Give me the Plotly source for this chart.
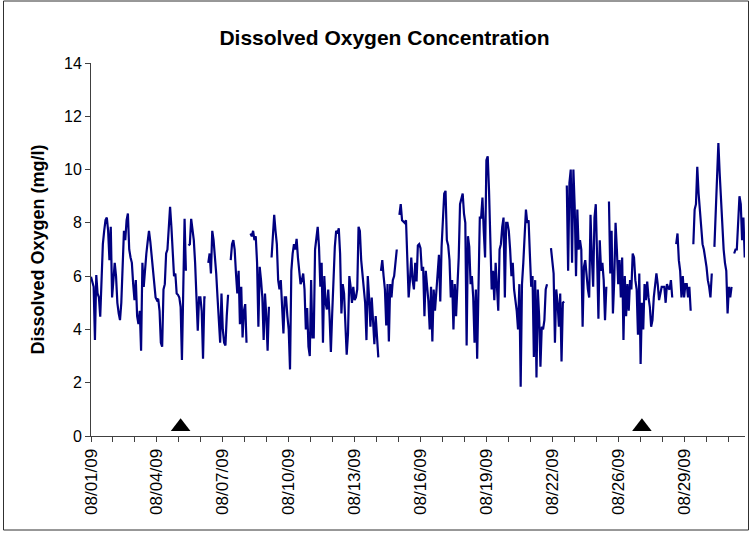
import plotly.graph_objects as go

# --- data: dissolved oxygen (mg/l), one reading per 1.5-hour slot; None = missing ---
do_values = [
    5.98, 5.73, 5.6, 3.6, 6.04, 5.35, 5.2, 4.48, 5.85, 7.2,
    7.7, 8.1, 8.2, 7.7, 6.6, 7.85, 5.2, 6.0, 6.5, 6.0,
    5.0, 4.6, 4.35, 5.0, 6.6, 7.7, 7.35, 8.1, 8.35, 7.0,
    6.7, 6.5, 5.7, 5.1, 5.85, 4.5, 4.2, 4.7, 3.2, 6.5,
    5.6, 6.35, 6.85, 7.3, 7.7, 7.3, 6.7, 6.2, 5.8, 5.2,
    5.1, 5.15, 4.7, 3.5, 3.35, 5.5, 5.7, 6.85, 7.0, 8.0,
    8.6, 7.85, 6.6, 6.0, 6.1, 5.35, 5.3, 5.2, 4.85, 2.85,
    5.5, 8.15, 6.2, None, 7.15, 7.2, 8.15, 7.8, 7.35, 6.5,
    5.35, 3.95, 5.2, 5.2, 4.7, 2.9, 5.2, 5.2, None, 6.5,
    6.85, 6.1, 7.7, 7.35, 6.85, 6.1, 5.2, 4.5, 3.5, 5.35,
    4.0, 3.5, 3.4, 4.5, 5.3, None, 6.6, 7.2, 7.35, 7.0,
    6.1, 5.35, 6.2, 4.2, 5.6, 3.7, 4.7, 4.95, 3.5, None,
    None, 7.6, 7.5, 7.7, 7.35, 7.5, 6.5, 4.1, 6.35, 5.85,
    5.2, 3.6, 5.35, 4.5, 3.2, 4.85, None, 6.7, 7.7, 8.3,
    7.7, 7.2, 5.85, 5.5, 5.85, 5.0, 3.85, 5.2, 5.2, 4.5,
    4.0, 2.5, 6.2, 6.85, 7.2, 7.0, 7.4, 6.7, 6.1, 5.7,
    5.85, 6.1, 5.5, 4.0, 4.8, 3.35, 3.0, 5.85, 3.7, 3.7,
    7.0, 7.5, 7.85, 7.1, 5.6, 6.5, 3.5, 6.0, 5.0, 4.75,
    5.5, 4.5, 3.15, 4.6, 6.2, 7.1, 7.7, 7.6, 7.8, 6.85,
    4.6, 5.7, 5.35, 4.0, 3.05, 3.85, 6.0, 5.6, 5.0, 5.6,
    5.1, 5.2, 5.5, 7.85, 7.7, 6.6, 6.1, 5.6, 5.0, 3.6,
    6.0, 5.2, 4.1, 5.2, 4.2, 3.45, 4.5, 3.7, 2.95, None,
    6.2, 6.6, 6.0, 5.5, 4.15, 5.7, 3.55, 5.7, 5.2, 5.85,
    6.0, 6.5, 7.0, None, 8.3, 8.7, 8.1, 8.05, 8.0, 8.1,
    6.5, 5.2, 5.85, 6.7, 5.85, 5.5, 6.5, 5.8, 7.15, 7.2,
    7.05, 6.2, 6.35, 4.5, 6.2, 5.7, 5.05, 4.0, 5.6, 3.55,
    5.5, 4.7, 5.6, 6.1, 6.8, 5.05, 7.1, 8.5, 9.1, 9.2,
    7.35, 7.15, 6.6, 5.2, 5.85, 4.0, 5.7, 4.5, 5.5, 6.7,
    8.7, 8.95, 9.1, 8.35, 8.0, 3.4, 7.5, 7.1, 5.7, 6.0,
    5.2, 3.5, 5.5, 2.9, 5.85, 8.2, 8.2, 8.95, 7.7, 6.7,
    10.35, 10.5, 9.2, 6.85, 5.5, 6.2, 5.1, 6.5, 5.5, 4.7,
    7.0, 7.2, 7.85, 8.2, 5.2, 8.0, 8.0, 7.7, 7.0, 6.0,
    6.5, 5.5, 5.1, 4.7, 4.0, 5.7, 1.85, 5.7, 6.5, 7.85,
    8.5, 8.0, 8.1, 6.8, 5.6, 6.0, 2.97, 5.85, 2.2, 5.5,
    4.5, 2.6, 4.1, 4.0, 4.35, 5.5, 5.7, None, None, 7.05,
    6.6, 6.1, 3.5, 5.5, 5.0, 4.1, 5.35, 2.8, 5.0, 5.05,
    None, 9.4, 6.2, 9.5, 10.0, 6.5, 10.0, 8.6, 6.0, 8.5,
    7.0, 7.35, 7.0, 4.1, 6.35, 6.6, 6.0, 5.5, 5.2, 8.3,
    6.7, 5.6, 8.2, 8.7, 6.7, 4.4, 7.35, 6.2, 6.5, 5.85,
    4.35, 5.6, None, 8.8, 6.1, 7.7, 4.6, 5.85, 8.0, 7.0,
    5.7, 6.6, 5.2, 6.7, 3.6, 6.0, 4.5, 5.7, 4.7, 5.85,
    5.5, 6.85, 6.7, 5.85, 5.5, 3.8, 6.1, 2.7, 5.0, 4.0,
    5.7, 5.1, 5.8, 5.2, 4.85, 4.1, 4.35, 5.2, 5.65, 6.1,
    5.7, 5.1, 5.35, 5.6, 5.6, 5.6, 5.0, 5.7, 5.55, 5.5,
    5.85, 5.2, None, None, 7.2, 7.6, 6.6, 6.2, 5.2, 6.0,
    5.2, 5.7, 5.7, 5.2, 5.6, 4.7, None, 7.2, 8.5, 8.7,
    10.1, 9.1, 8.5, 7.8, 7.2, 7.0, 6.7, 6.35, 5.85, 5.6,
    5.2, 6.1, None, 7.1, 8.6, 10.0, 11.0, 9.85, 8.85, 7.85,
    7.0, 6.5, 6.2, 4.6, 5.6, 5.2, 5.6, None, 6.85, 7.0,
    7.0, 8.0, 9.0, 8.7, 7.35, 8.2, 6.7,
]
sample_index = list(range(len(do_values)))

# category tick labels (one label every 50 slots)
tick_positions = [0, 50, 100, 150, 200, 250, 300, 350, 400, 450]
tick_labels = ["08/01/09", "08/04/09", "08/07/09", "08/10/09", "08/13/09",
               "08/16/09", "08/19/09", "08/22/09", "08/26/09", "08/29/09"]

# event markers (triangles)
event_x = [68, 418]
event_y = [0.35, 0.35]

FONT = "Liberation Sans, Arial, sans-serif"
AXIS_COLOR = "#404040"

fig = go.Figure()
fig.add_trace(go.Scatter(
    x=sample_index, y=do_values, mode="lines",
    line=dict(color="#000080", width=2.2),
    connectgaps=False, hoverinfo="skip", showlegend=False,
))
fig.add_trace(go.Scatter(
    x=event_x, y=event_y, mode="markers",
    marker=dict(symbol="triangle-up", size=17, color="black"),
    cliponaxis=False, hoverinfo="skip", showlegend=False,
))

L, R, T, B = 91, 6, 63, 97
W, H = 751, 533
pw, ph = W - L - R, H - T - B
PX_PER_SLOT = 1.318

fig.update_layout(
    width=W, height=H,
    margin=dict(l=L, r=R, t=T, b=B, autoexpand=False),
    paper_bgcolor="white", plot_bgcolor="white",
    font=dict(family=FONT, color="black", size=16),
    title=dict(
        text="Dissolved Oxygen Concentration",
        font=dict(family=FONT, size=21, color="black", weight="bold"),
        x=384.5 / W, xref="container", xanchor="center",
        y=1 - 38 / H, yref="container", yanchor="middle",
    ),
    xaxis=dict(
        range=[0, pw / PX_PER_SLOT],
        showline=True, linecolor=AXIS_COLOR, linewidth=1,
        showgrid=False, zeroline=False,
        tickmode="array", tickvals=tick_positions, ticktext=tick_labels,
        tickangle=-90, ticks="outside", ticklen=5, tickcolor=AXIS_COLOR,
        tickfont=dict(family=FONT, size=17, color="black"),
        minor=dict(ticks="outside", ticklen=5, tickcolor=AXIS_COLOR,
                   tickmode="linear", tick0=0, dtick=50 / 3, showgrid=False),
    ),
    yaxis=dict(
        range=[0, 14],
        showline=True, linecolor=AXIS_COLOR, linewidth=1,
        showgrid=False, zeroline=False,
        tickmode="linear", tick0=0, dtick=2,
        ticks="outside", ticklen=5, tickcolor=AXIS_COLOR,
        tickfont=dict(family=FONT, size=16, color="black"),
        title=dict(text="Dissolved Oxygen (mg/l)", standoff=14,
                   font=dict(family=FONT, size=18, color="black", weight="bold")),
    ),
)

# outer chart border
fig.add_shape(
    type="rect", xref="paper", yref="paper",
    x0=(3.5 - L) / pw, x1=(748.5 - L) / pw,
    y0=(H - B - 530) / ph, y1=(H - B - 1) / ph,
    line=dict(color="#303030", width=1), fillcolor="rgba(0,0,0,0)", layer="below",
)

fig.write_html(
    "out.html",
    config={"displayModeBar": False},
    post_script="document.body.style.margin='0';document.body.style.overflow='hidden';",
)
